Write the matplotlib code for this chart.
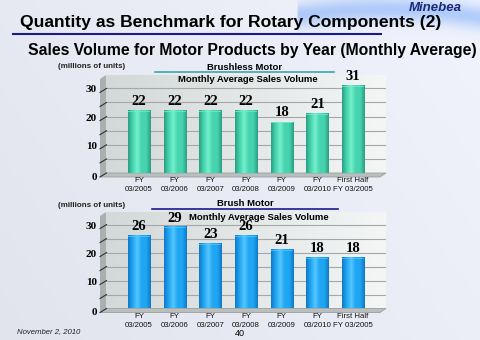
import numpy as np
import matplotlib.pyplot as plt
import matplotlib.transforms as mtransforms
from matplotlib.patches import Polygon, Rectangle
from matplotlib.colors import LinearSegmentedColormap

plt.rcParams["font.family"] = ["Liberation Sans", "DejaVu Sans"]

# fiscal-year categories shared by both charts
years = ["FY\n03/2005", "FY\n03/2006", "FY\n03/2007", "FY\n03/2008",
         "FY\n03/2009", "FY\n03/2010", "First Half\nFY 03/2005"]

# monthly average sales volume, millions of units
brushless = [22, 22, 22, 22, 18, 21, 31]
brush = [26, 29, 23, 26, 21, 18, 18]

W, H = 480, 340
fig = plt.figure(figsize=(W / 100, H / 100), dpi=100)

# light slide background with a blue swoosh top right
bg = fig.add_axes([0, 0, 1, 1], zorder=-10)
yy, xx = np.mgrid[0:1:200j, 0:1:300j]
base = 0.92 + 0.04 * xx - 0.02 * yy
img = np.dstack([base - 0.015, base - 0.005, base + 0.03])
swoosh = np.exp(-((yy - 0.025 - 0.6 * (xx - 0.8) ** 2) / 0.035) ** 2) * (xx > 0.62)
img[..., 0] -= 0.25 * swoosh
img[..., 1] -= 0.15 * swoosh
img = np.clip(img, 0, 1)
bg.imshow(img, extent=[0, 1, 0, 1], aspect="auto", origin="upper")
bg.set_xlim(0, 1)
bg.set_ylim(0, 1)
bg.axis("off")


def px(x, y):
    """pixel position (from top-left) to figure fraction"""
    return x / W, 1 - y / H


fig.text(*px(20, 23), "Quantity as Benchmark for Rotary Components (2)",
         fontsize=12.6, fontweight="bold", va="center", ha="left", color="black")
fig.add_artist(plt.Line2D([13 / W, 381 / W], [1 - 33.5 / H] * 2,
                          color="#1a1a8c", lw=1.5))
fig.text(*px(462, 8), "Minebea", fontsize=9.5, fontweight="bold", style="italic",
         ha="right", va="center", color="#1c2a78")
fig.text(*px(252, 50), "Sales Volume for Motor Products by Year (Monthly Average)",
         fontsize=11.3, fontweight="bold", ha="center", va="center", color="black")
fig.text(*px(17, 332), "November 2, 2010", fontsize=5.6, style="italic",
         ha="left", va="center", color="#222222")
fig.text(*px(240, 334), "40", fontsize=6.5, ha="center", va="center")


def bar_chart(rect, values, c_edge, c_mid, c_hi, ymax):
    ax = fig.add_axes(rect)
    n = len(values)
    x_lo, x_hi = -0.925, n - 1 + 0.925

    # back wall
    wall = np.linspace(0, 1, 50)[None, :] * np.ones((50, 1))
    wall_cmap = LinearSegmentedColormap.from_list("wall", ["#d3d9d8", "#f4f6f6"])
    ax.imshow(wall, extent=[x_lo, x_hi, 0, ymax], aspect="auto",
              cmap=wall_cmap, zorder=0)
    for v in range(5, int(ymax) + 1, 5):
        ax.axhline(v, color="#a4a8a8", lw=0.8, zorder=1)

    # left wall and floor, slanted toward the viewer
    depth = mtransforms.offset_copy(ax.transAxes, fig=fig, x=-6, y=-4, units="dots")
    back = ax.transAxes
    lw_pts = [back.transform((0, 0)), back.transform((0, 1)),
              depth.transform((0, 1)), depth.transform((0, 0))]
    ax.add_patch(Polygon(lw_pts, closed=True, transform=None, facecolor="#a9b1b0",
                         edgecolor="none", clip_on=False, zorder=0))
    fl_pts = [back.transform((0, 0)), back.transform((1, 0)),
              depth.transform((1, 0)), depth.transform((0, 0))]
    ax.add_patch(Polygon(fl_pts, closed=True, transform=None, facecolor="#b9bebe",
                         edgecolor="#9aa0a0", lw=0.6, clip_on=False, zorder=0))

    # slanted tick marks with labels on the front edge
    for v in range(0, int(ymax) + 1, 5):
        p0 = ax.transData.transform((x_lo, v))
        ax.add_line(plt.Line2D([p0[0] - 6, p0[0] + 0.5], [p0[1] - 4, p0[1]],
                               transform=None, color="#333333", lw=0.8,
                               clip_on=False))
        if v % 10 == 0:
            ax.text(p0[0] - 9, p0[1] - (4 if v == 0 else 1.5), f"{v}",
                    transform=None, ha="right", va="center",
                    family=["Liberation Serif"], fontweight="bold", fontsize=8)

    # cylinder-shaded bars
    shade = LinearSegmentedColormap.from_list(
        "cyl", [c_edge, c_mid, c_hi, c_mid, c_mid, c_edge])
    grad = np.linspace(0, 1, 64)[None, :]
    width = 0.62
    for i, v in enumerate(values):
        x0 = i - width / 2
        ax.imshow(grad, extent=[x0, x0 + width, -0.6, v], aspect="auto",
                  cmap=shade, zorder=3)
        ax.add_patch(Rectangle((x0, v - 0.35), width, 0.35, facecolor=c_hi,
                               edgecolor="none", alpha=0.7, zorder=4))
        ax.text(i, v + 1.0, f"{v}", ha="center", va="bottom",
                family=["Liberation Serif"], fontweight="bold", fontsize=10.5,
                zorder=5)

    ax.set_xlim(x_lo, x_hi)
    ax.set_ylim(0, ymax)
    ax.set_xticks(range(n))
    ax.set_xticklabels(years, fontsize=5.6, linespacing=1.4, color="#111111")
    ax.tick_params(axis="x", length=0, pad=3)
    ax.set_yticks([])
    for s in ax.spines.values():
        s.set_visible(False)
    return ax


top = bar_chart([106 / W, 1 - 173 / H, 280 / W, 98 / H], brushless,
                "#2a9e84", "#46d4ae", "#74f0cc", 34.75)
bot = bar_chart([106 / W, 1 - 308.5 / H, 280 / W, 96.5 / H], brush,
                "#1078c8", "#1fa6f2", "#56c6ff", 34.5)

# chart captions
for name, cy, ly, lx0, lx1, lc, sy, sx in [
        ("Brushless Motor", 67, 72, 155, 334, "#3aa8a8", 79, 248),
        ("Brush Motor", 203, 209, 152, 338, "#1a1a8c", 217, 259)]:
    fig.text(*px((lx0 + lx1) / 2, cy), name, fontsize=6.8, fontweight="bold",
             ha="center", va="center")
    fig.add_artist(plt.Line2D([lx0 / W, lx1 / W], [1 - ly / H] * 2,
                              color=lc, lw=1.2))
    fig.text(*px(sx, sy), "Monthly Average Sales Volume", fontsize=6.8,
             fontweight="bold", ha="center", va="center", zorder=10)

fig.text(*px(58, 67), "(millions of units)", fontsize=5.8, fontweight="bold",
         ha="left", va="center", color="#222222")
fig.text(*px(58, 206), "(millions of units)", fontsize=5.8, fontweight="bold",
         ha="left", va="center", color="#222222")

fig.savefig("out.png", dpi=100)
